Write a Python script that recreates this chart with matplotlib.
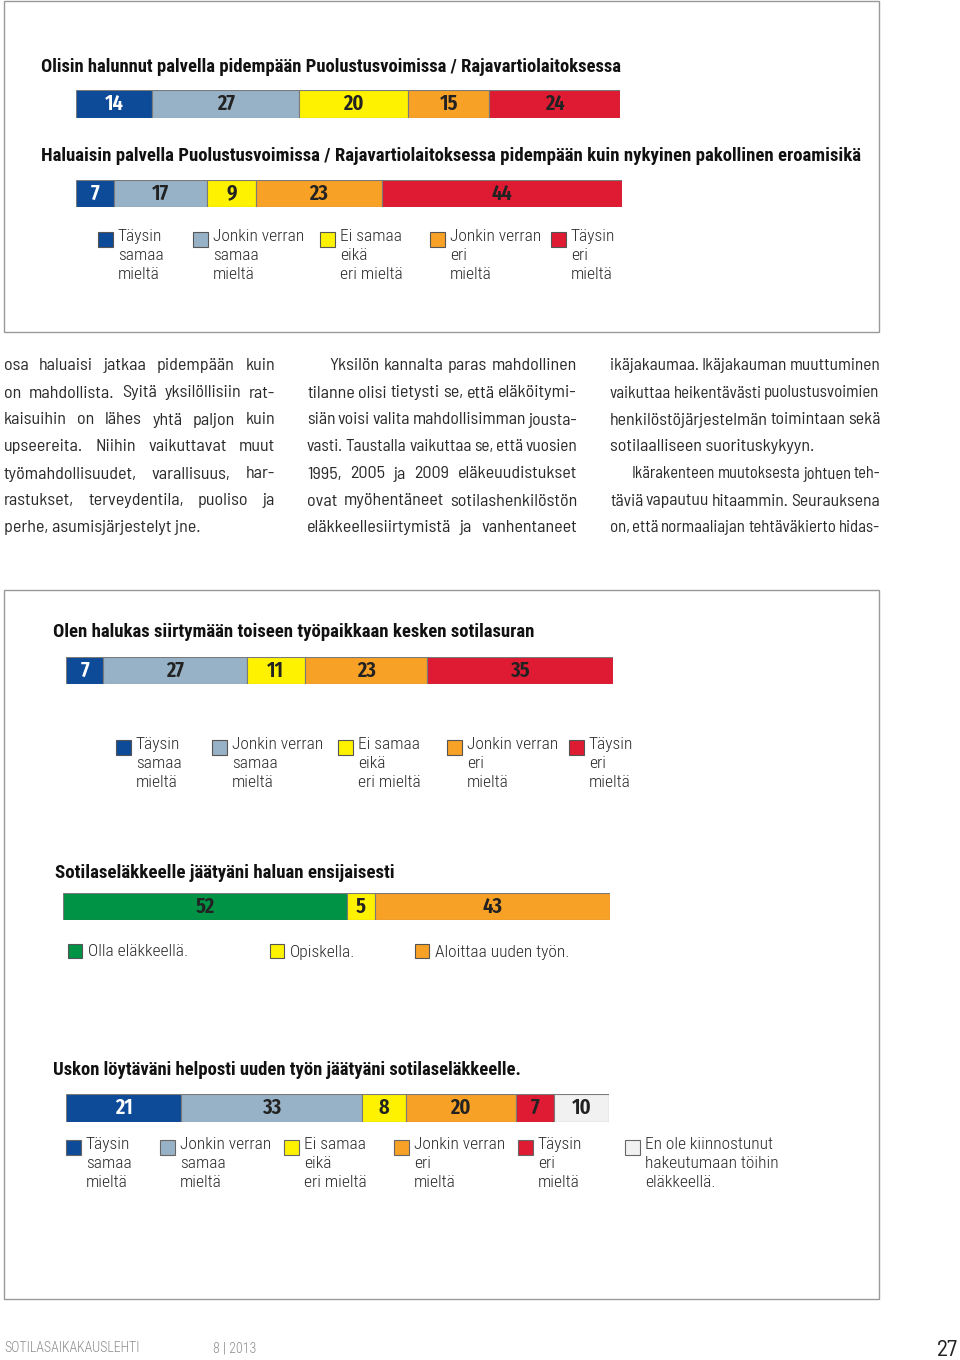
import matplotlib
matplotlib.use("Agg")
import matplotlib.pyplot as plt
from matplotlib.patches import Rectangle

W, H = 960, 1360

# colours for the answer scale
C_BLUE = "#0d4a98"
C_GREY = "#97b2c6"
C_YEL = "#fff200"
C_ORA = "#f7a126"
C_RED = "#de1b32"
C_GRN = "#009245"
C_WHT = "#f1f1f1"

# chart data
title1 = "Olisin halunnut palvella pidempään Puolustusvoimissa / Rajavartiolaitoksessa"
vals1 = [14, 27, 20, 15, 24]
title2 = "Haluaisin palvella Puolustusvoimissa / Rajavartiolaitoksessa pidempään kuin nykyinen pakollinen eroamisikä"
vals2 = [7, 17, 9, 23, 44]
title3 = "Olen halukas siirtymään toiseen työpaikkaan kesken sotilasuran"
vals3 = [7, 27, 11, 23, 35]
title4 = "Sotilaseläkkeelle jäätyäni haluan ensijaisesti"
vals4 = [52, 5, 43]
title5 = "Uskon löytäväni helposti uuden työn jäätyäni sotilaseläkkeelle."
vals5 = [21, 33, 8, 20, 7, 10]

scale_colors = [C_BLUE, C_GREY, C_YEL, C_ORA, C_RED]
scale_labels = ["Täysin\nsamaa\nmieltä", "Jonkin verran\nsamaa\nmieltä",
                "Ei samaa\neikä\neri mieltä", "Jonkin verran\neri\nmieltä",
                "Täysin\neri\nmieltä"]
labels4 = ["Olla eläkkeellä.", "Opiskella.", "Aloittaa uuden työn."]
colors4 = [C_GRN, C_YEL, C_ORA]
extra5 = "En ole kiinnostunut\nhakeutumaan töihin\neläkkeellä."

col1 = ["osa haluaisi jatkaa pidempään kuin",
        "on mahdollista. Syitä yksilöllisiin rat-",
        "kaisuihin on lähes yhtä paljon kuin",
        "upseereita. Niihin vaikuttavat muut",
        "työmahdollisuudet, varallisuus, har-",
        "rastukset, terveydentila, puoliso ja",
        "perhe, asumisjärjestelyt jne."]
col2 = ["Yksilön kannalta paras mahdollinen",
        "tilanne olisi tietysti se, että eläköitymi-",
        "siän voisi valita mahdollisimman jousta-",
        "vasti. Taustalla vaikuttaa se, että vuosien",
        "1995, 2005 ja 2009 eläkeuudistukset",
        "ovat myöhentäneet sotilashenkilöstön",
        "eläkkeellesiirtymistä ja vanhentaneet"]
col3 = ["ikäjakaumaa. Ikäjakauman muuttuminen",
        "vaikuttaa heikentävästi puolustusvoimien",
        "henkilöstöjärjestelmän toimintaan sekä",
        "sotilaalliseen suorituskykyyn.",
        "Ikärakenteen muutoksesta johtuen teh-",
        "täviä vapautuu hitaammin. Seurauksena",
        "on, että normaaliajan tehtäväkierto hidas-"]

FONT = ["Roboto Condensed", "DejaVu Sans"]
TEXTFONT = ["Barlow Semi Condensed", "Roboto Condensed", "DejaVu Sans"]
NUMFONT = ["Fira Sans Extra Condensed", "Roboto Condensed", "DejaVu Sans"]
plt.rcParams["font.family"] = FONT

fig = plt.figure(figsize=(W / 100, H / 100), dpi=100)
fig.patch.set_facecolor("white")
renderer = fig.canvas.get_renderer()
TXT = "#2a2a2a"


def T(x, y, s, **kw):
    return fig.text(x / W, 1 - y / H, s, **kw)


def title(x, y, s, x_end):
    # bold heading, sized so that it ends where the reference heading ends
    t = T(x, y, s, ha="left", va="center", fontsize=12, fontweight="bold", color="#111111")
    w = t.get_window_extent(renderer).width
    t.set_fontsize(12 * (x_end - x) / w)
    return t


def box(x0, y0, x1, y1, fc="none", ec="#999999", lw=1.0):
    fig.patches.append(Rectangle((x0 / W, 1 - y1 / H), (x1 - x0) / W, (y1 - y0) / H,
                                 transform=fig.transFigure, facecolor=fc,
                                 edgecolor=ec, linewidth=lw))


def bar(x0, y0, x1, y1, values, colors, txtcolors):
    ax = fig.add_axes([x0 / W, 1 - y1 / H, (x1 - x0) / W, (y1 - y0) / H])
    left = 0
    for v, c, tc in zip(values, colors, txtcolors):
        ax.barh(0, v, left=left, height=1, color=c, edgecolor="#7a7a7a", linewidth=0.8)
        ax.text(left + v / 2, 0, str(v), ha="center", va="center", color=tc,
                fontsize=16, fontweight="semibold", family=NUMFONT)
        left += v
    ax.set_xlim(0, sum(values))
    ax.set_ylim(-0.5, 0.5)
    ax.axis("off")


def legend(xs, y, colors, labels, ec="#555555"):
    for x, c, lab in zip(xs, colors, labels):
        box(x, y - 8, x + 15, y + 7, fc=c, ec=ec, lw=0.8)
        T(x + 20, y - 11, lab, ha="left", va="top", fontsize=12.5, fontweight="light",
          color=TXT, linespacing=1.32)


BODY = 13


def justify(x0, x1, y, line, just=True, indent=0):
    kw = dict(ha="left", va="center", fontsize=BODY, color=TXT, family=TEXTFONT)
    words = line.split()
    if not just or len(words) < 2:
        T(x0 + indent, y, line, **kw)
        return
    objs = [T(0, y, w, **kw) for w in words]
    widths = [o.get_window_extent(renderer).width for o in objs]
    avail = x1 - x0 - indent
    need = sum(widths) + 2.5 * (len(words) - 1)
    if need > avail:
        # line too long for the column: shrink it a little
        f = (avail - 2.5 * (len(words) - 1)) / sum(widths)
        for o in objs:
            o.set_fontsize(BODY * f)
        widths = [w * f for w in widths]
    gap = (avail - sum(widths)) / (len(words) - 1)
    x = x0 + indent
    for o, w in zip(objs, widths):
        o.set_x(x / W)
        x += w + gap


# frames
box(4, 1, 879, 332)
box(4, 590, 879, 1299)

# top charts
title(41, 67, title1, 625)
bar(76, 90, 620, 118, vals1, scale_colors, ["white"] + ["#222222"] * 4)
title(41, 156, title2, 862)
bar(76, 180, 622, 207, vals2, scale_colors, ["white"] + ["#222222"] * 4)
legend([98, 193, 320, 430, 551], 240, scale_colors, scale_labels)

# body text
lines_y = [366, 393, 420, 447, 474, 501, 528]
for i, (ln, y) in enumerate(zip(col1, lines_y)):
    justify(4, 275, y, ln, just=(i < 6))
for i, (ln, y) in enumerate(zip(col2, lines_y)):
    justify(307, 577, y, ln, indent=(22 if i == 0 else 0))
for i, (ln, y) in enumerate(zip(col3, lines_y)):
    justify(610, 880, y, ln, just=(i != 3), indent=(22 if i == 4 else 0))

# lower charts
title(53, 632, title3, 536)
bar(66, 657, 613, 684, vals3, scale_colors, ["white"] + ["#222222"] * 4)
legend([116, 212, 338, 447, 569], 748, scale_colors, scale_labels)

title(55, 873, title4, 395)
bar(63, 893, 610, 920, vals4, colors4, ["#222222"] * 3)
for x, c, lab in zip([68, 270, 415], colors4, labels4):
    box(x, 944, x + 14, 958, fc=c, ec="#555555", lw=0.8)
    T(x + 20, 952, lab, ha="left", va="center", fontsize=12.5, fontweight="light",
      color=TXT)

title(53, 1070, title5, 522)
bar(66, 1094, 609, 1122, vals5, scale_colors + [C_WHT], ["white"] + ["#222222"] * 5)
legend([66, 160, 284, 394, 518, 625], 1148, scale_colors + [C_WHT],
       scale_labels + [extra5], ec="#666666")

# footer
T(4, 1348, "SOTILASAIKAKAUSLEHTI", ha="left", va="center", fontsize=10,
  fontweight="light", color="#8c8c8c")
T(213, 1348, "8 | 2013", ha="left", va="center", fontsize=10, fontweight="light",
  color="#8c8c8c")
T(958, 1350, "27", ha="right", va="center", fontsize=17, color="#222222",
  family=TEXTFONT)

fig.savefig("out.png", dpi=100, facecolor="white")
